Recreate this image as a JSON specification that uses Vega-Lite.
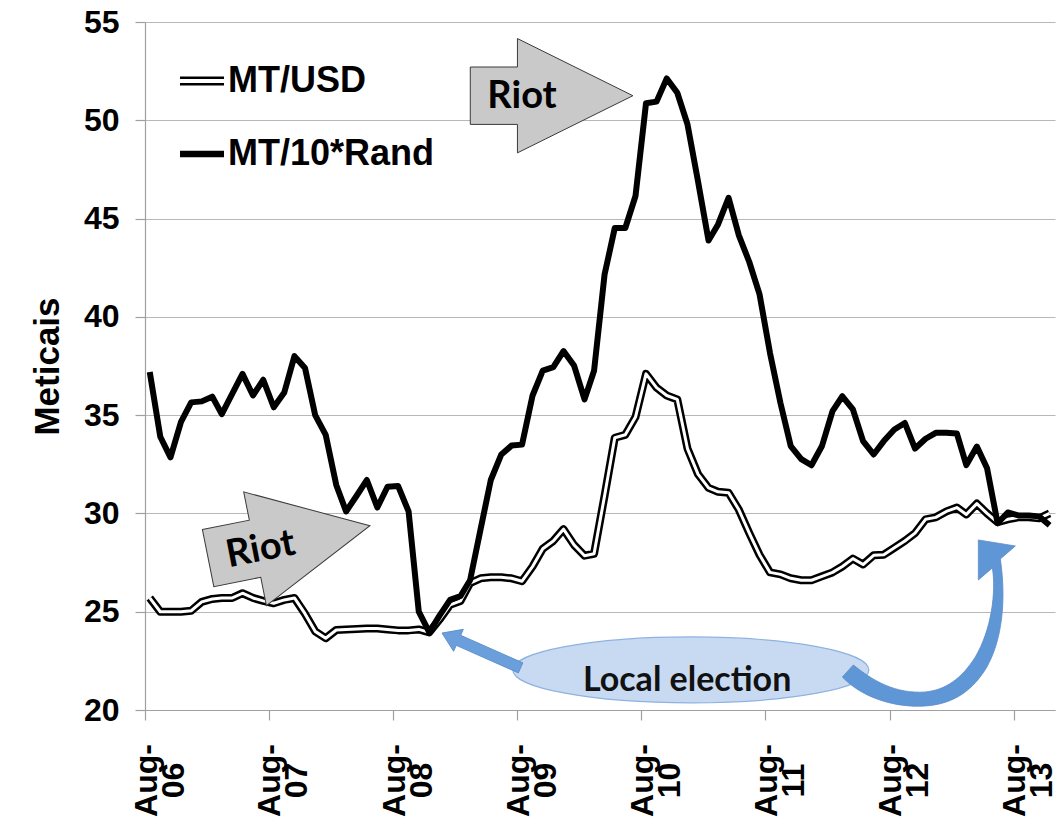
{
  "$schema": "https://vega.github.io/schema/vega-lite/v6.json",
  "width": 910,
  "height": 688,
  "autosize": {"type": "none"},
  "padding": {"left": 145, "top": 22, "right": 5, "bottom": 120},
  "background": "white",
  "config": {
    "view": {"stroke": null},
    "font": "Liberation Sans",
    "axisY": {
      "grid": true,
      "gridColor": "#b8b8b8",
      "gridWidth": 1.2,
      "domainColor": "#a0a0a0",
      "domainWidth": 1.2,
      "tickColor": "#a0a0a0",
      "tickWidth": 1.2,
      "tickSize": 10,
      "labelFont": "Liberation Sans Narrow, Liberation Sans",
      "labelFontSize": 32,
      "labelFontWeight": "bold",
      "labelColor": "black",
      "labelPadding": 16,
      "titleFont": "Liberation Sans",
      "titleFontSize": 35,
      "titleFontWeight": "bold",
      "titleColor": "black",
      "titlePadding": 18
    }
  },
  "datasets": {
    "fx": [
      {"date": "2006-08-15", "usd": 25.7, "rand": 37.2},
      {"date": "2006-09-15", "usd": 25.0, "rand": 33.9},
      {"date": "2006-10-15", "usd": 25.0, "rand": 32.85},
      {"date": "2006-11-15", "usd": 25.0, "rand": 34.66},
      {"date": "2006-12-15", "usd": 25.05, "rand": 35.65},
      {"date": "2007-01-15", "usd": 25.5, "rand": 35.7},
      {"date": "2007-02-15", "usd": 25.65, "rand": 35.94},
      {"date": "2007-03-15", "usd": 25.7, "rand": 35.05},
      {"date": "2007-04-15", "usd": 25.7, "rand": 36.1},
      {"date": "2007-05-15", "usd": 25.94, "rand": 37.1},
      {"date": "2007-06-15", "usd": 25.7, "rand": 36.0},
      {"date": "2007-07-15", "usd": 25.55, "rand": 36.8},
      {"date": "2007-08-15", "usd": 25.43, "rand": 35.4},
      {"date": "2007-09-15", "usd": 25.6, "rand": 36.15},
      {"date": "2007-10-15", "usd": 25.7, "rand": 38.0},
      {"date": "2007-11-15", "usd": 24.9, "rand": 37.4},
      {"date": "2007-12-15", "usd": 24.0, "rand": 35.0},
      {"date": "2008-01-15", "usd": 23.65, "rand": 34.0},
      {"date": "2008-02-15", "usd": 24.07, "rand": 31.45},
      {"date": "2008-03-15", "usd": 24.1, "rand": 30.1},
      {"date": "2008-04-15", "usd": 24.12, "rand": 30.9},
      {"date": "2008-05-15", "usd": 24.15, "rand": 31.7},
      {"date": "2008-06-15", "usd": 24.15, "rand": 30.3},
      {"date": "2008-07-15", "usd": 24.1, "rand": 31.36},
      {"date": "2008-08-15", "usd": 24.05, "rand": 31.4},
      {"date": "2008-09-15", "usd": 24.05, "rand": 30.1},
      {"date": "2008-10-15", "usd": 24.1, "rand": 25.0},
      {"date": "2008-11-15", "usd": 23.95, "rand": 23.95},
      {"date": "2008-12-15", "usd": 24.6, "rand": 24.8},
      {"date": "2009-01-15", "usd": 25.35, "rand": 25.6},
      {"date": "2009-02-15", "usd": 25.55, "rand": 25.8},
      {"date": "2009-03-15", "usd": 26.45, "rand": 26.6},
      {"date": "2009-04-15", "usd": 26.7, "rand": 29.2},
      {"date": "2009-05-15", "usd": 26.75, "rand": 31.7},
      {"date": "2009-06-15", "usd": 26.75, "rand": 33.0},
      {"date": "2009-07-15", "usd": 26.7, "rand": 33.45},
      {"date": "2009-08-15", "usd": 26.55, "rand": 33.5},
      {"date": "2009-09-15", "usd": 27.3, "rand": 36.0},
      {"date": "2009-10-15", "usd": 28.2, "rand": 37.26},
      {"date": "2009-11-15", "usd": 28.6, "rand": 37.44},
      {"date": "2009-12-15", "usd": 29.2, "rand": 38.26},
      {"date": "2010-01-15", "usd": 28.4, "rand": 37.53},
      {"date": "2010-02-15", "usd": 27.85, "rand": 35.8},
      {"date": "2010-03-15", "usd": 27.95, "rand": 37.26},
      {"date": "2010-04-15", "usd": 30.9, "rand": 42.16},
      {"date": "2010-05-15", "usd": 33.85, "rand": 44.52},
      {"date": "2010-06-15", "usd": 34.0, "rand": 44.52},
      {"date": "2010-07-15", "usd": 34.9, "rand": 46.15},
      {"date": "2010-08-15", "usd": 37.1, "rand": 50.87},
      {"date": "2010-09-15", "usd": 36.4, "rand": 50.95},
      {"date": "2010-10-15", "usd": 36.0, "rand": 52.13},
      {"date": "2010-11-15", "usd": 35.8, "rand": 51.4},
      {"date": "2010-12-15", "usd": 33.3, "rand": 49.8},
      {"date": "2011-01-15", "usd": 32.0, "rand": 46.9},
      {"date": "2011-02-15", "usd": 31.3, "rand": 43.88},
      {"date": "2011-03-15", "usd": 31.1, "rand": 44.7},
      {"date": "2011-04-15", "usd": 31.05, "rand": 46.06},
      {"date": "2011-05-15", "usd": 30.2, "rand": 44.16},
      {"date": "2011-06-15", "usd": 29.0, "rand": 42.79},
      {"date": "2011-07-15", "usd": 27.9, "rand": 41.16},
      {"date": "2011-08-15", "usd": 27.0, "rand": 38.16},
      {"date": "2011-09-15", "usd": 26.9, "rand": 35.6},
      {"date": "2011-10-15", "usd": 26.7, "rand": 33.43},
      {"date": "2011-11-15", "usd": 26.6, "rand": 32.76},
      {"date": "2011-12-15", "usd": 26.6, "rand": 32.45},
      {"date": "2012-01-15", "usd": 26.8, "rand": 33.43},
      {"date": "2012-02-15", "usd": 27.0, "rand": 35.2},
      {"date": "2012-03-15", "usd": 27.3, "rand": 35.96},
      {"date": "2012-04-15", "usd": 27.7, "rand": 35.29},
      {"date": "2012-05-15", "usd": 27.4, "rand": 33.68},
      {"date": "2012-06-15", "usd": 27.87, "rand": 33.0},
      {"date": "2012-07-15", "usd": 27.9, "rand": 33.68},
      {"date": "2012-08-15", "usd": 28.25, "rand": 34.27},
      {"date": "2012-09-15", "usd": 28.6, "rand": 34.6},
      {"date": "2012-10-15", "usd": 29.0, "rand": 33.3},
      {"date": "2012-11-15", "usd": 29.7, "rand": 33.8},
      {"date": "2012-12-15", "usd": 29.8, "rand": 34.1},
      {"date": "2013-01-15", "usd": 30.1, "rand": 34.1},
      {"date": "2013-02-15", "usd": 30.3, "rand": 34.07},
      {"date": "2013-03-15", "usd": 29.95, "rand": 32.46},
      {"date": "2013-04-15", "usd": 30.5, "rand": 33.4},
      {"date": "2013-05-15", "usd": 30.0, "rand": 32.3},
      {"date": "2013-06-15", "usd": 29.55, "rand": 29.5},
      {"date": "2013-07-15", "usd": 29.7, "rand": 30.05},
      {"date": "2013-08-15", "usd": 29.8, "rand": 29.9},
      {"date": "2013-09-15", "usd": 29.8, "rand": 29.9},
      {"date": "2013-10-15", "usd": 29.75, "rand": 29.85},
      {"date": "2013-11-15", "usd": 30.0, "rand": 29.4}
    ]
  },
  "encoding": {
    "x": {
      "field": "date",
      "type": "temporal",
      "title": null,
      "scale": {"type": "utc", "domain": [{"year": 2006, "month": 8, "date": 1, "utc": true}, {"year": 2013, "month": 12, "date": 1, "utc": true}]},
      "axis": {
        "values": [
          {"year": 2006, "month": 8, "date": 1, "utc": true},
          {"year": 2007, "month": 8, "date": 1, "utc": true},
          {"year": 2008, "month": 8, "date": 1, "utc": true},
          {"year": 2009, "month": 8, "date": 1, "utc": true},
          {"year": 2010, "month": 8, "date": 1, "utc": true},
          {"year": 2011, "month": 8, "date": 1, "utc": true},
          {"year": 2012, "month": 8, "date": 1, "utc": true},
          {"year": 2013, "month": 8, "date": 1, "utc": true}
        ],
        "labelExpr": "['Aug-', utcFormat(datum.value, '%y')]",
        "labelAngle": 270,
        "labelAlign": "center",
        "labelBaseline": "middle",
        "labelPadding": 60,
        "labelOffset": 1,
        "labelLineHeight": 27,
        "labelFontSize": 32,
        "labelFontWeight": "bold",
        "labelFont": "Liberation Sans",
        "labelColor": "black",
        "labelOverlap": false,
        "labelBound": false,
        "labelFlush": false,
        "tickSize": 10,
        "tickColor": "#a0a0a0",
        "tickWidth": 1.2,
        "domainColor": "#a0a0a0",
        "domainWidth": 1.2,
        "grid": false
      }
    }
  },
  "layer": [
    {
      "data": {"name": "fx"},
      "mark": {"type": "line", "stroke": "black", "strokeWidth": 8, "strokeJoin": "round"},
      "encoding": {
        "y": {
          "field": "usd",
          "type": "quantitative",
          "title": "Meticais",
          "scale": {"domain": [20, 55], "nice": false, "zero": false},
          "axis": {"values": [20, 25, 30, 35, 40, 45, 50, 55], "title": "Meticais"}
        }
      }
    },
    {
      "data": {"name": "fx"},
      "mark": {"type": "line", "stroke": "white", "strokeWidth": 3, "strokeJoin": "round"},
      "encoding": {
        "y": {"field": "usd", "type": "quantitative", "title": "Meticais", "scale": {"domain": [20, 55], "nice": false, "zero": false}}
      }
    },
    {
      "data": {"name": "fx"},
      "mark": {"type": "line", "stroke": "black", "strokeWidth": 6, "strokeJoin": "round"},
      "encoding": {
        "y": {"field": "rand", "type": "quantitative", "title": "Meticais", "scale": {"domain": [20, 55], "nice": false, "zero": false}}
      }
    },
    {
      "data": {"name": "fx"},
      "transform": [{"fold": ["usd", "rand"], "as": ["series", "v"]}, {"filter": "false"}],
      "mark": {"type": "point", "filled": true, "color": "black", "opacity": 1},
      "encoding": {
        "y": {"field": "v", "type": "quantitative", "title": "Meticais", "scale": {"domain": [20, 55], "nice": false, "zero": false}},
        "shape": {
          "field": "series",
          "type": "nominal",
          "scale": {"domain": ["usd", "rand"], "range": ["M-1,-0.2H1V-0.09H-1ZM-1,0.09H1V0.2H-1Z", "M-1,-0.15H1V0.15H-1Z"]},
          "legend": {
            "title": null,
            "orient": "none",
            "legendX": 35,
            "legendY": 37,
            "labelExpr": "datum.label == 'usd' ? 'MT/USD' : 'MT/10*Rand'",
            "labelLimit": 0,
            "symbolSize": 1936,
            "symbolFillColor": "black",
            "symbolOpacity": 1,
            "symbolStrokeWidth": 0,
            "labelFont": "Liberation Sans",
            "labelFontSize": 36,
            "labelFontWeight": "bold",
            "labelColor": "black",
            "labelOffset": 4,
            "rowPadding": 33,
            "padding": 0,
            "symbolOffset": 0
          }
        }
      }
    },
    {
      "data": {"values": [{"date": "2009-11-10", "value": 51.25}]},
      "mark": {"type": "point", "shape": "M-1,-0.353L-0.42,-0.353L-0.42,-0.703L1,0L-0.42,0.703L-0.42,0.353L-1,0.353Z", "size": 26439, "fill": "#c9c9c9", "stroke": "#3a3a3a", "strokeWidth": 1, "opacity": 1, "filled": true},
      "encoding": {"y": {"field": "value", "type": "quantitative", "title": "Meticais", "scale": {"domain": [20, 55], "nice": false, "zero": false}}}
    },
    {
      "data": {"values": [{"date": "2007-09-29", "value": 28.55}]},
      "mark": {"type": "point", "shape": "M-1,-0.353L-0.42,-0.353L-0.42,-0.703L1,0L-0.42,0.703L-0.42,0.353L-1,0.353Z", "size": 27225, "angle": 348.7, "fill": "#c9c9c9", "stroke": "#3a3a3a", "strokeWidth": 1, "opacity": 1, "filled": true},
      "encoding": {"y": {"field": "value", "type": "quantitative", "title": "Meticais", "scale": {"domain": [20, 55], "nice": false, "zero": false}}}
    },
    {
      "data": {"values": [{"date": "2009-08-15", "value": 51.17, "label": "Riot"}]},
      "mark": {"type": "text", "font": "Lato", "fontWeight": "bold", "fontSize": 38, "color": "black", "align": "center", "baseline": "middle"},
      "encoding": {
        "y": {"field": "value", "type": "quantitative", "title": "Meticais", "scale": {"domain": [20, 55], "nice": false, "zero": false}},
        "text": {"field": "label"}
      }
    },
    {
      "data": {"values": [{"date": "2007-07-08", "value": 28.15, "label": "Riot"}]},
      "mark": {"type": "text", "font": "Lato", "fontWeight": "bold", "fontSize": 38, "color": "black", "align": "center", "baseline": "middle", "angle": 349},
      "encoding": {
        "y": {"field": "value", "type": "quantitative", "title": "Meticais", "scale": {"domain": [20, 55], "nice": false, "zero": false}},
        "text": {"field": "label"}
      }
    },
    {
      "data": {"values": [{"date": "2010-12-25", "value": 22.04}]},
      "mark": {"type": "point", "shape": "M-1,0C-1,-0.102 -0.552,-0.185 0,-0.185C0.552,-0.185 1,-0.102 1,0C1,0.102 0.552,0.185 0,0.185C-0.552,0.185 -1,0.102 -1,0Z", "size": 126736, "fill": "#c8daf2", "stroke": "#8fb2e0", "strokeWidth": 1.2, "opacity": 1, "filled": true},
      "encoding": {"y": {"field": "value", "type": "quantitative", "title": "Meticais", "scale": {"domain": [20, 55], "nice": false, "zero": false}}}
    },
    {
      "data": {"values": [{"date": "2010-12-14", "value": 21.48, "label": "Local election"}]},
      "mark": {"type": "text", "font": "Lato", "fontWeight": "bold", "fontSize": 34, "color": "#111111", "align": "center", "baseline": "middle"},
      "encoding": {
        "y": {"field": "value", "type": "quantitative", "title": "Meticais", "scale": {"domain": [20, 55], "nice": false, "zero": false}},
        "text": {"field": "label"}
      }
    },
    {
      "data": {"values": [{"date": "2009-04-17", "value": 23.03}]},
      "mark": {"type": "point", "shape": "M-1,-0.128L0.58,-0.128L0.58,-0.28L1,0L0.58,0.28L0.58,0.128L-1,0.128Z", "size": 7396, "angle": 203.9, "fill": "#6a9fdc", "stroke": "#5a8bc8", "strokeWidth": 0.8, "opacity": 1, "filled": true},
      "encoding": {"y": {"field": "value", "type": "quantitative", "title": "Meticais", "scale": {"domain": [20, 55], "nice": false, "zero": false}}}
    },
    {
      "data": {"values": [{"date": "2012-11-29", "value": 24.58}]},
      "mark": {"type": "point", "shape": "M-0.88,0.57C-0.68,0.78 -0.35,0.88 -0.05,0.86C0.25,0.84 0.43,0.69 0.56,0.48C0.72,0.20 0.76,-0.20 0.70,-0.61L0.85,-0.74L0.48,-0.80L0.48,-0.40L0.62,-0.52C0.66,-0.28 0.61,0.10 0.45,0.37C0.31,0.59 0.15,0.70 -0.05,0.72C-0.35,0.74 -0.57,0.61 -0.77,0.45Z", "size": 40000, "fill": "#5f96d6", "stroke": "#5a8bc8", "strokeWidth": 0.8, "opacity": 1, "filled": true},
      "encoding": {"y": {"field": "value", "type": "quantitative", "title": "Meticais", "scale": {"domain": [20, 55], "nice": false, "zero": false}}}
    }
  ]
}
